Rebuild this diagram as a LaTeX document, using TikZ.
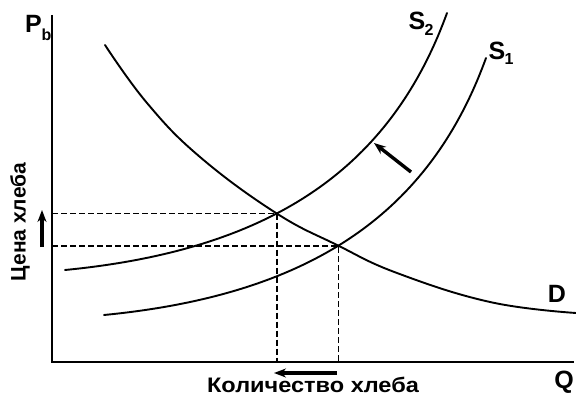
\documentclass[tikz,border=0pt]{standalone}
\usepackage{fontspec}
\setmainfont{Liberation Sans}
\usetikzlibrary{arrows.meta,intersections}
\begin{document}
\begin{tikzpicture}[x=1pt,y=-1pt,
  curve/.style={line width=1.9pt, line cap=round},
  guide/.style={line width=1.7pt, dash pattern=on 6pt off 3pt},
  axis/.style={line width=2.2pt},
  shiftarrow/.style={line width=3.4pt, -{Stealth[length=12pt,width=9pt]}},
  lbl/.style={font=\bfseries\fontsize{25}{25}\selectfont, inner sep=0pt},
  sub/.style={font=\bfseries\fontsize{16}{16}\selectfont, inner sep=0pt},
  txt/.style={font=\bfseries\fontsize{21}{21}\selectfont, inner sep=0pt}]
\useasboundingbox (0,0) rectangle (576,396);
\coordinate (O) at (52,362);
\coordinate (Ytop) at (52,15);
\coordinate (Xend) at (574,362);
\draw[axis] (Ytop) -- (O) -- (Xend);
\draw[curve, name path=D] plot[smooth, tension=0.7] coordinates {(105,45) (147,103) (200,157) (276,213) (337,245) (397,273) (490,302) (576,313)};
\draw[curve, name path=S2] (65,270) .. controls (270,250) and (390,170) .. (447,13);
\draw[curve, name path=S1] (104,315) .. controls (309,295) and (429,215) .. (486,58);
\path[name intersections={of=D and S2, by=E2}];
\path[name intersections={of=D and S1, by=E1}];
\coordinate (P2) at (O |- E2);
\coordinate (P1) at (O |- E1);
\coordinate (Q2) at (O -| E2);
\coordinate (Q1) at (O -| E1);
\draw[guide] (P2) -- (E2) -- (Q2);
\draw[guide] (P1) -- (E1) -- (Q1);
\node[lbl] (P) at (33.5,24) {P};
\node[sub] (Pb) at (46.5,35) {b};
\node[lbl] (S2l) at (417,21) {S};
\node[sub] (S2i) at (429,30) {2};
\node[lbl] (S1l) at (497,51) {S};
\node[sub] (S1i) at (509,59) {1};
\node[lbl] (Dl) at (557,294) {D};
\node[lbl] (Ql) at (564,382) {Q};
\coordinate (a1) at (411,172);
\coordinate (a2) at (374,143);
\draw[shiftarrow] (a1) -- (a2);
\coordinate (b1) at (337,373);
\coordinate (b2) at (274,373);
\draw[shiftarrow] (b1) -- (b2);
\coordinate (c1) at (42,247);
\coordinate (c2) at (42,210);
\draw[shiftarrow] (c1) -- (c2);
\node[txt, rotate=90] (ylab) at (20,222) {Цена хлеба};
\node[txt, xscale=1.12, anchor=base] (xlab) at (313,392) {Количество хлеба};
\end{tikzpicture}
\end{document}
